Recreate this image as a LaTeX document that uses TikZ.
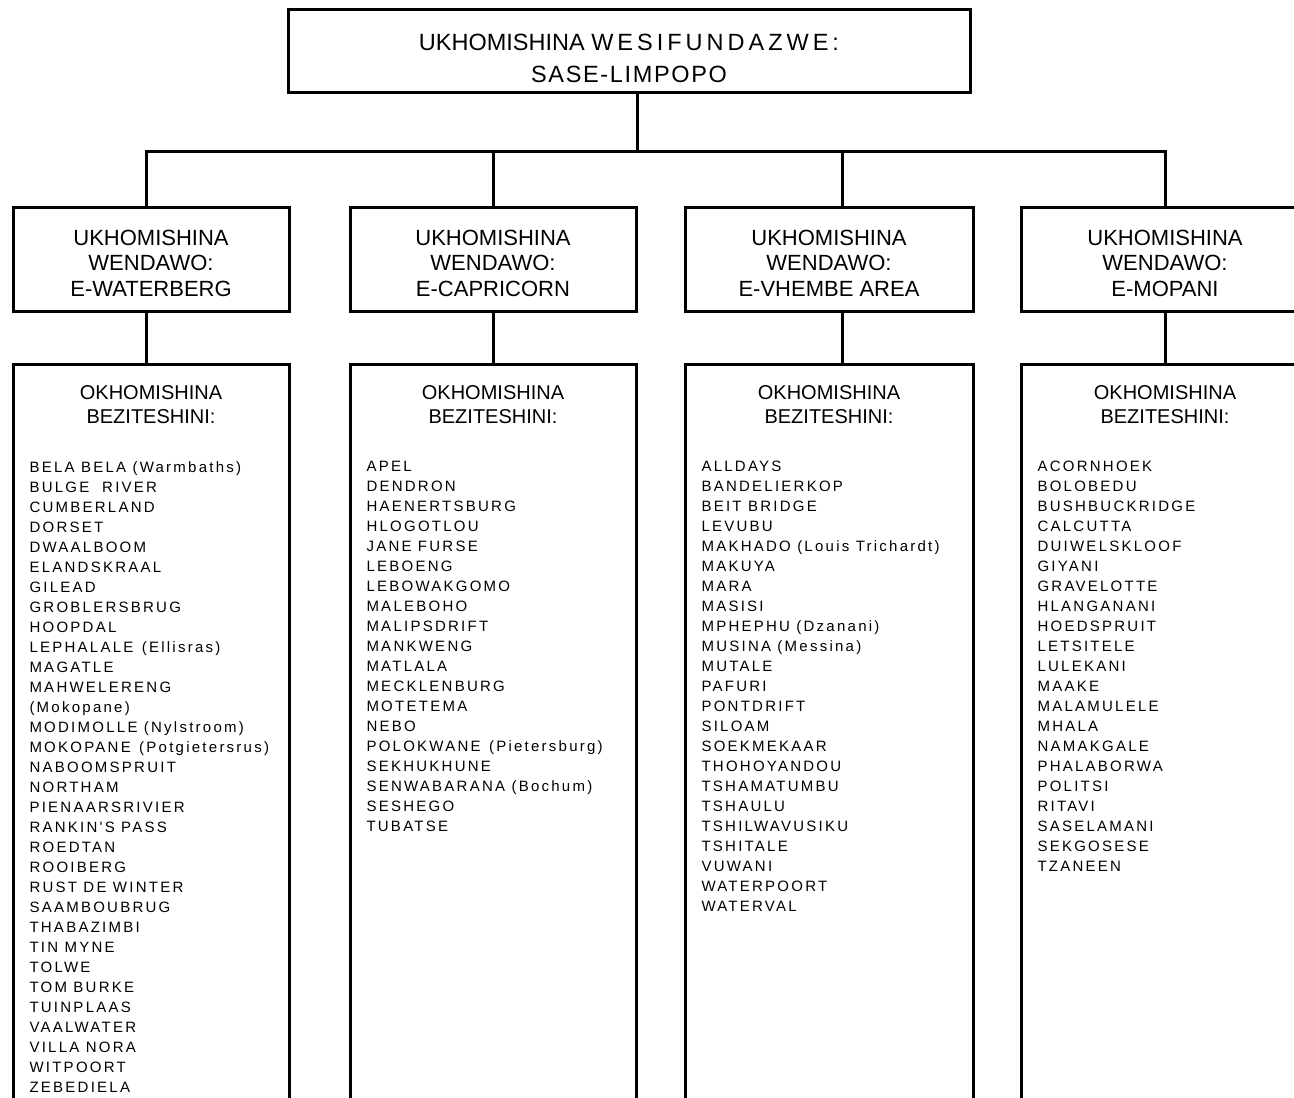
\documentclass[tikz,border=0pt]{standalone}
\usepackage{fontspec}
\setmainfont{Liberation Sans}
\newfontfamily\listfont[LetterSpace=15]{Liberation Sans}
\newfontfamily\wideword[LetterSpace=17]{Liberation Sans}
\newfontfamily\halfwide[LetterSpace=7]{Liberation Sans}
\usetikzlibrary{positioning}

\begin{document}
\begin{tikzpicture}[x=1pt,y=-1pt,line width=3pt,
	topbox/.style={rectangle,draw,minimum width=682pt,minimum height=83pt,align=center,text height=62pt,text depth=0pt,font=\fontsize{23.5}{32}\selectfont},
	areabox/.style={rectangle,draw,minimum height=104pt,align=center,text height=75.2pt,text depth=0pt,font=\fontsize{22}{25.8}\selectfont},
	stationbox/.style={rectangle,draw,anchor=north,minimum height=800pt},
	stationhead/.style={anchor=north,inner sep=0pt,align=center,font=\fontsize{20}{24}\selectfont},
	stationlist/.style={anchor=north west,inner sep=0pt,align=left,font=\listfont\fontsize{15}{20}\selectfont}]
	\fill[white](0,0) rectangle (1294,1098);
	\useasboundingbox (0,0) rectangle (1294,1098);
	\node[topbox](top) at (629,51){UKHOMISHINA {\wideword WESIFUNDAZWE:}\\{\halfwide SASE-LIMPOPO}};
	\node[areabox,minimum width=276pt](wat) at (151,259){UKHOMISHINA\\WENDAWO:\\E-WATERBERG};
	\node[areabox,minimum width=286pt](cap) at (493,259){UKHOMISHINA\\WENDAWO:\\E-CAPRICORN};
	\node[areabox,minimum width=288pt](vhe) at (829,259){UKHOMISHINA\\WENDAWO:\\E-VHEMBE AREA};
	\node[areabox,minimum width=288pt](mop) at (1165,259){UKHOMISHINA\\WENDAWO:\\E-MOPANI};
	\node[stationbox,minimum width=276pt](wat3) at (151,363){};
	\node[stationbox,minimum width=286pt](cap3) at (493,363){};
	\node[stationbox,minimum width=288pt](vhe3) at (829,363){};
	\node[stationbox,minimum width=288pt](mop3) at (1165,363){};
	\node[stationhead](wathead) at (151,384){OKHOMISHINA\\BEZITESHINI:};
	\node[stationhead](caphead) at (493,384){OKHOMISHINA\\BEZITESHINI:};
	\node[stationhead](vhehead) at (829,384){OKHOMISHINA\\BEZITESHINI:};
	\node[stationhead](mophead) at (1165,384){OKHOMISHINA\\BEZITESHINI:};
	\node[stationlist](watlist) at (28,460){BELA BELA (Warmbaths)\\BULGE~ RIVER\\CUMBERLAND\\DORSET\\DWAALBOOM\\ELANDSKRAAL\\GILEAD\\GROBLERSBRUG\\HOOPDAL\\LEPHALALE\hspace{2pt} (Ellisras)\\MAGATLE\\MAHWELERENG\\(Mokopane)\\MODIMOLLE (Nylstroom)\\MOKOPANE\hspace{2pt} (Potgietersrus)\\NABOOMSPRUIT\\NORTHAM\\PIENAARSRIVIER\\RANKIN'S PASS\\ROEDTAN\\ROOIBERG\\RUST DE WINTER\\SAAMBOUBRUG\\THABAZIMBI\\TIN MYNE\\TOLWE\\TOM BURKE\\TUINPLAAS\\VAALWATER\\VILLA NORA\\WITPOORT\\ZEBEDIELA};
	\node[stationlist](caplist) at (365,460){APEL\\DENDRON\\HAENERTSBURG\\HLOGOTLOU\\JANE FURSE\\LEBOENG\\LEBOWAKGOMO\\MALEBOHO\\MALIPSDRIFT\\MANKWENG\\MATLALA\\MECKLENBURG\\MOTETEMA\\NEBO\\POLOKWANE\hspace{2pt} (Pietersburg)\\SEKHUKHUNE\\SENWABARANA (Bochum)\\SESHEGO\\TUBATSE};
	\node[stationlist](vhelist) at (700,460){ALLDAYS\\BANDELIERKOP\\BEIT BRIDGE\\LEVUBU\\MAKHADO (Louis Trichardt)\\MAKUYA\\MARA\\MASISI\\MPHEPHU (Dzanani)\\MUSINA (Messina)\\MUTALE\\PAFURI\\PONTDRIFT\\SILOAM\\SOEKMEKAAR\\THOHOYANDOU\\TSHAMATUMBU\\TSHAULU\\TSHILWAVUSIKU\\TSHITALE\\VUWANI\\WATERPOORT\\WATERVAL};
	\node[stationlist](moplist) at (1036,460){ACORNHOEK\\BOLOBEDU\\BUSHBUCKRIDGE\\CALCUTTA\\DUIWELSKLOOF\\GIYANI\\GRAVELOTTE\\HLANGANANI\\HOEDSPRUIT\\LETSITELE\\LULEKANI\\MAAKE\\MALAMULELE\\MHALA\\NAMAKGALE\\PHALABORWA\\POLITSI\\RITAVI\\SASELAMANI\\SEKGOSESE\\TZANEEN};
	\coordinate(bus) at (637,151);
	\coordinate(watx) at (146,151);
	\coordinate(vhex) at (842,151);
	\draw(top.south -| bus)--(bus);
	\draw(watx |- wat.north)--(watx)--(mop.north |- bus)--(mop.north);
	\draw(cap.north |- bus)--(cap.north);
	\draw(vhex)--(vhex |- vhe.north);
	\draw(watx |- wat.south)--(watx |- wat3.north);
	\draw(cap.south)--(cap3.north);
	\draw(vhex |- vhe.south)--(vhex |- vhe3.north);
	\draw(mop.south)--(mop3.north);
	
\end{tikzpicture}
\end{document}
